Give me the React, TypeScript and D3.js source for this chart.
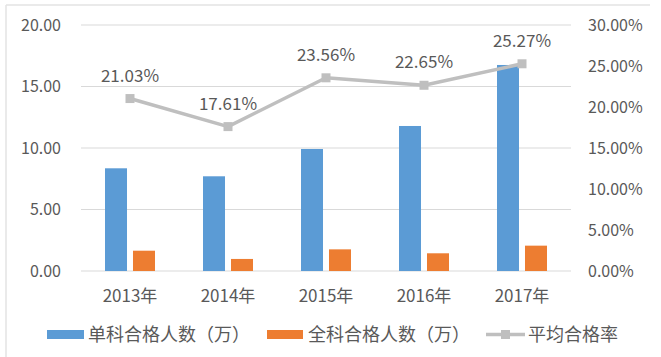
import React from "react";
import * as d3 from "d3";

const categories = ["2013年", "2014年", "2015年", "2016年", "2017年"];
const singlePass = [8.35, 7.7, 9.92, 11.79, 16.75];
const fullPass = [1.65, 0.98, 1.76, 1.44, 2.06];
const passRate = [21.03, 17.61, 23.56, 22.65, 25.27];
const leftTicks = [0, 5, 10, 15, 20];
const rightTicks = [0, 5, 10, 15, 20, 25, 30];
const seriesNames = ["单科合格人数（万）", "全科合格人数（万）", "平均合格率"];

const W = 661;
const H = 357;
const FONT = "'Noto Sans CJK SC', 'Noto Sans', sans-serif";
const TEXT = "#595959";
const BLUE = "#5B9BD5";
const ORANGE = "#ED7D31";
const GRAY = "#BFBFBF";

export default function App() {
  const left = 81, right = 571, top = 25, bottom = 271;
  const x = d3.scaleBand<string>().domain(categories).range([left, right]).padding(0);
  const groupW = 50;
  const x1 = d3.scaleBand<string>().domain(["a", "b"]).range([0, groupW]).paddingInner(0.214).paddingOuter(0);
  const yL = d3.scaleLinear().domain([0, 20]).range([bottom, top]);
  const yR = d3.scaleLinear().domain([0, 30]).range([bottom, top]);
  const cx = (c: string) => (x(c) as number) + x.bandwidth() / 2;
  const gx = (c: string) => cx(c) - groupW / 2;
  const line = d3.line<number>().x((_, i) => cx(categories[i])).y((d) => yR(d));
  const ms = 9;

  return (
    <svg width={W} height={H} style={{ position: "absolute", left: 0, top: 0, background: "#fff" }} fontFamily={FONT}>
      <line x1={6} x2={650} y1={5} y2={5} stroke="#e3e3e3" strokeWidth={1.5} />
      <line x1={6} x2={6} y1={5} y2={H} stroke="#e3e3e3" strokeWidth={1.5} />
      {leftTicks.map((t) => (
        <g key={"l" + t}>
          <line x1={left} x2={right} y1={yL(t)} y2={yL(t)} stroke="#d9d9d9" strokeWidth={1} />
          <text x={61} y={yL(t)} dy="0.35em" textAnchor="end" fontSize={16} fill={TEXT}>
            {t.toFixed(2)}
          </text>
        </g>
      ))}
      {rightTicks.map((t) => (
        <text key={"r" + t} x={588} y={yR(t)} dy="0.35em" textAnchor="start" fontSize={16} fill={TEXT}>
          {t.toFixed(2) + "%"}
        </text>
      ))}
      {categories.map((c, i) => (
        <g key={c}>
          <rect x={gx(c) + (x1("a") as number)} width={x1.bandwidth()} y={yL(singlePass[i])} height={bottom - yL(singlePass[i])} fill={BLUE} />
          <rect x={gx(c) + (x1("b") as number)} width={x1.bandwidth()} y={yL(fullPass[i])} height={bottom - yL(fullPass[i])} fill={ORANGE} />
          <text x={cx(c)} y={302} textAnchor="middle" fontSize={17} fill={TEXT}>
            {c}
          </text>
        </g>
      ))}
      <path d={line(passRate) || ""} fill="none" stroke={GRAY} strokeWidth={3.5} strokeLinejoin="round" />
      {categories.map((c, i) => (
        <g key={"p" + c}>
          <rect x={cx(c) - ms / 2} y={yR(passRate[i]) - ms / 2} width={ms} height={ms} fill={GRAY} />
          <text x={cx(c)} y={yR(passRate[i]) - 17} textAnchor="middle" fontSize={17} fill={TEXT}>
            {passRate[i].toFixed(2) + "%"}
          </text>
        </g>
      ))}
      <g>
        <rect x={47} y={330} width={37} height={9} fill={BLUE} />
        <text x={88} y={334.5} dy="0.35em" fontSize={18} fill={TEXT}>{seriesNames[0]}</text>
        <rect x={267} y={330} width={36} height={9} fill={ORANGE} />
        <text x={308} y={334.5} dy="0.35em" fontSize={18} fill={TEXT}>{seriesNames[1]}</text>
        <line x1={486} x2={525} y1={334.5} y2={334.5} stroke={GRAY} strokeWidth={3.5} />
        <rect x={505.5 - ms / 2} y={334.5 - ms / 2} width={ms} height={ms} fill={GRAY} />
        <text x={528} y={334.5} dy="0.35em" fontSize={18} fill={TEXT}>{seriesNames[2]}</text>
      </g>
    </svg>
  );
}
